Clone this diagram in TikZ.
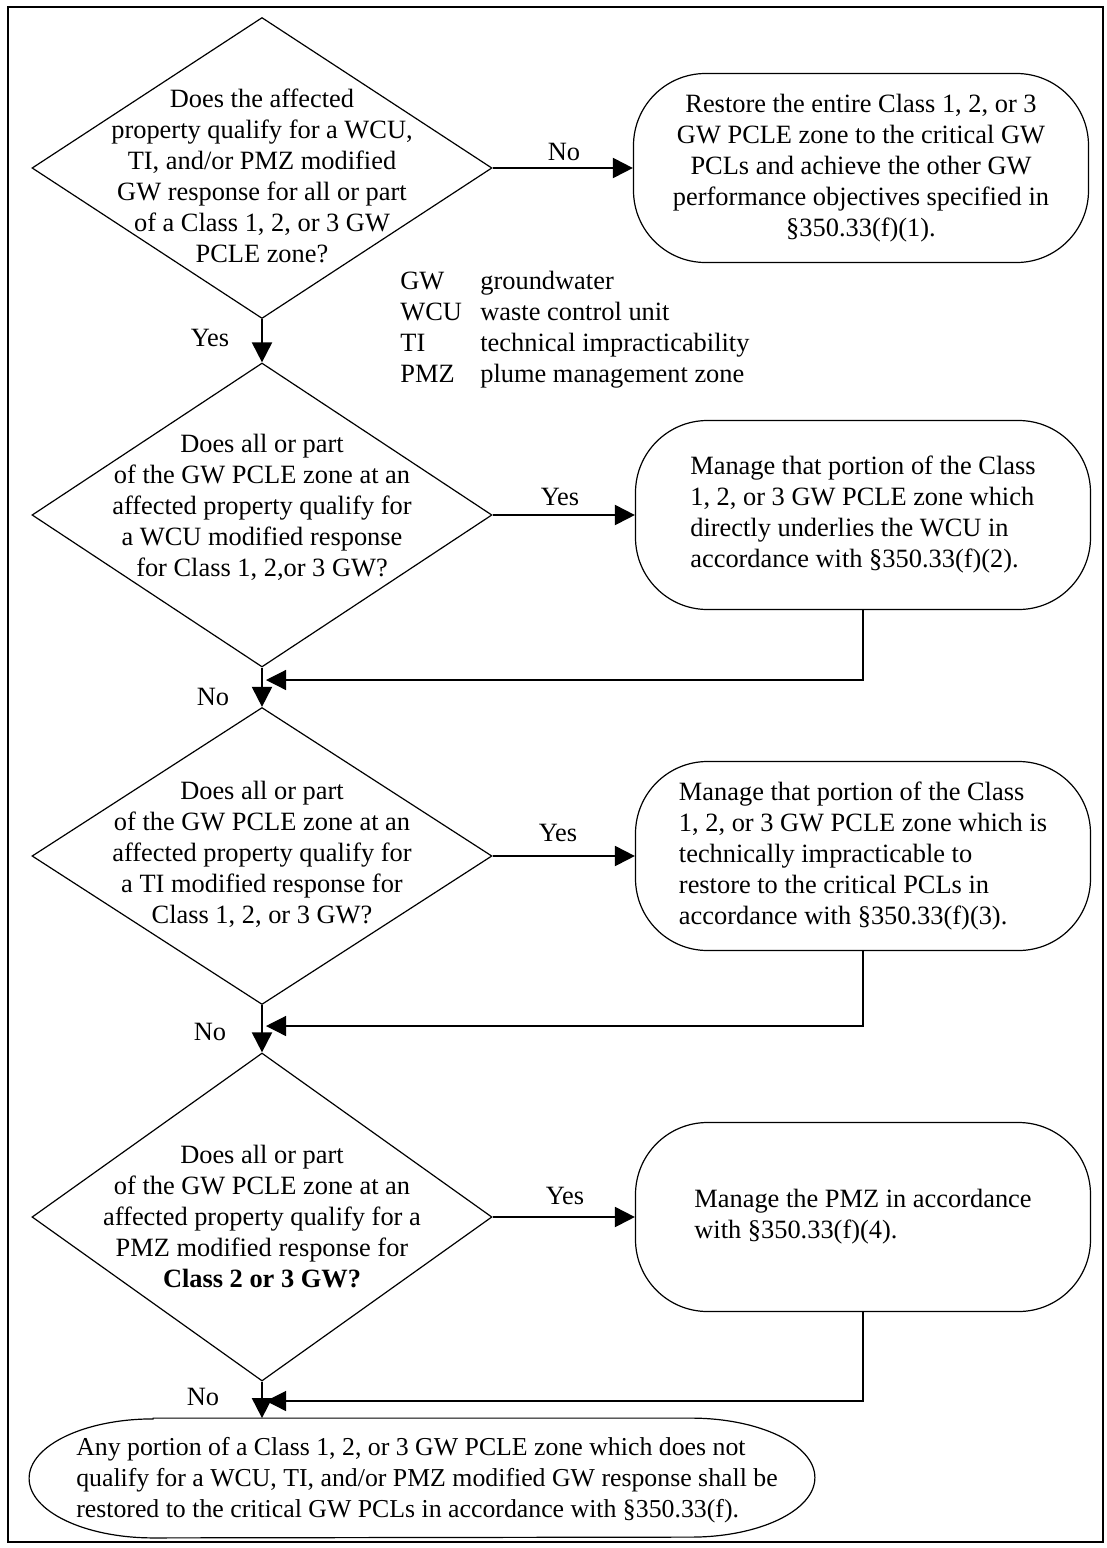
\documentclass[tikz,border=0pt]{standalone}
\usepackage{fontspec}
\setmainfont{Liberation Serif}
\usetikzlibrary{shapes.geometric, arrows.meta}

\begin{document}
\begin{tikzpicture}[
      x=0.5pt, y=-0.5pt,
      font=\fontsize{13.2}{15.5}\selectfont,
      decision/.style={draw, diamond, line width=0.6pt, inner sep=0pt, minimum width=230pt},
      qtext/.style={align=center, inner sep=0pt},
      outcome/.style={draw, rounded corners=36pt, line width=0.6pt, minimum width=227.5pt, minimum height=94.5pt, inner sep=0pt},
      leftbox/.style={outcome, align=left},
      arrow/.style={-{Triangle[length=10pt,width=10pt]}, line width=1pt},
      back/.style={-{Triangle[length=10pt,width=10pt]}, line width=0.6pt},
      lbl/.style={inner sep=0pt}
    ]
      \useasboundingbox (0,0) rectangle (1107,1548);
      \draw[line width=1pt] (8,7) rectangle (1103,1542);

      % questions
      \node[decision, minimum height=150.5pt] (q1) at (262,168) {};
      \node[qtext] (q1txt) at (262,176) {Does the affected\\ property qualify for a WCU,\\ TI, and/or PMZ modified\\ GW response for all or part\\ of a Class 1, 2, or 3 GW\\ PCLE zone?};
      \node[decision, minimum height=152pt] (q2) at (262,515) {};
      \node[qtext] (q2txt) at (262,507) {Does all or part\\ of the GW PCLE zone at an\\ affected property qualify for\\ a WCU modified response\\ for Class 1, 2,or 3 GW?};
      \node[decision, minimum height=148.5pt] (q3) at (262,856) {};
      \node[qtext] (q3txt) at (262,854) {Does all or part\\ of the GW PCLE zone at an\\ affected property qualify for\\ a TI modified response for\\ Class 1, 2, or 3 GW?};
      \node[decision, minimum height=164pt] (q4) at (262,1217) {};
      \node[qtext] (q4txt) at (262,1217) {Does all or part\\ of the GW PCLE zone at an\\ affected property qualify for a\\ PMZ modified response for\\ \textbf{Class 2 or 3 GW?}};

      % outcomes
      \node[outcome, align=center] (r1) at (861,168) {Restore the entire Class 1, 2, or 3\\ GW PCLE zone to the critical GW\\ PCLs and achieve the other GW\\ performance objectives specified in\\ \S350.33(f)(1).};
      \node[leftbox] (r2) at (863,515) {Manage that portion of the Class\\ 1, 2, or 3 GW PCLE zone which\\ directly underlies the WCU in\\ accordance with \S350.33(f)(2).};
      \node[leftbox] (r3) at (863,856) {Manage that portion of the Class\\ 1, 2, or 3 GW PCLE zone which is\\ technically impracticable to\\ restore to the critical PCLs in\\ accordance with \S350.33(f)(3).};
      \node[leftbox] (r4) at (863,1217) {Manage the PMZ in accordance\\ with \S350.33(f)(4).\phantom{ accordance}};

      \node[minimum width=392.5pt, minimum height=59.5pt, inner sep=0pt] (fin) at (422,1478) {};
      \draw[line width=0.6pt] ([xshift=62pt]fin.north west) -- ([xshift=-62pt]fin.north east)
        arc[start angle=90, end angle=-90, x radius=62pt, y radius=29.75pt]
        -- ([xshift=62pt]fin.south west)
        arc[start angle=270, end angle=90, x radius=62pt, y radius=29.75pt] -- cycle;
      \node[align=left, inner sep=0pt, font=\fontsize{12.9}{15.5}\selectfont] (fintxt) at (427,1480) {Any portion of a Class 1, 2, or 3 GW PCLE zone which does not\\ qualify for a WCU, TI, and/or PMZ modified GW response shall be\\ restored to the critical GW PCLs in accordance with \S350.33(f).};

      % abbreviations
      \node[align=left, anchor=west, inner sep=0pt] (legend) at (400,330) {\makebox[40pt][l]{GW}groundwater\\ \makebox[40pt][l]{WCU}waste control unit\\ \makebox[40pt][l]{TI}technical impracticability\\ \makebox[40pt][l]{PMZ}plume management zone};

      % yes / no labels
      \node[lbl] (no1) at (564,152) {No};
      \node[lbl] (yes1) at (210,338) {Yes};
      \node[lbl] (yes2) at (560,497) {Yes};
      \node[lbl] (no2) at (213,697) {No};
      \node[lbl] (yes3) at (558,833) {Yes};
      \node[lbl] (no3) at (210,1032) {No};
      \node[lbl] (yes4) at (565,1196) {Yes};
      \node[lbl] (no4) at (203,1397) {No};

      \coordinate (j2) at (266,680);
      \coordinate (j3) at (266,1026);
      \coordinate (j4) at (266,1401);

      \draw[arrow] (q1) -- (r1);
      \draw[arrow] (q1) -- (q2);
      \draw[arrow] (q2) -- (r2);
      \draw[arrow] (q2) -- (q3);
      \draw[arrow] (q3) -- (r3);
      \draw[arrow] (q3) -- (q4);
      \draw[arrow] (q4) -- (r4);
      \draw[arrow] (q4.south) -- (q4.south |- fin.north);
      \draw[back] (r2.south) |- (j2);
      \draw[back] (r3.south) |- (j3);
      \draw[back] (r4.south) |- (j4);
    \end{tikzpicture}
\end{document}
